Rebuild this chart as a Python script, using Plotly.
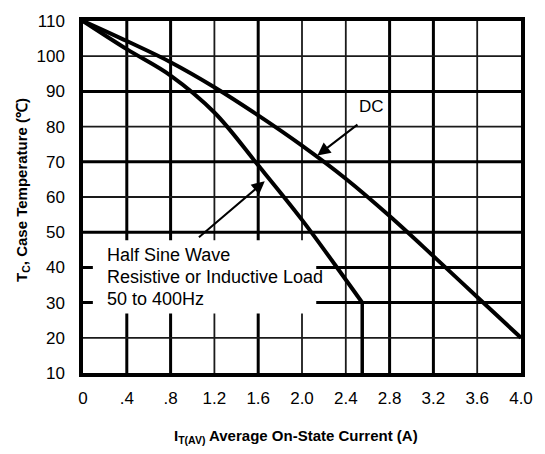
import plotly.graph_objects as go

# ---- data ----
dc_x = [0.0, 0.4, 0.8, 1.2, 1.6, 2.0, 2.4, 2.8, 3.2, 3.6, 4.0]
dc_y = [110, 104.3, 98.3, 91.2, 83.2, 74.6, 65.2, 54.6, 43.2, 31.6, 20.0]

hs_x = [0.0, 0.4, 0.8, 1.2, 1.6, 2.0, 2.4, 2.55]
hs_y = [110, 102.0, 94.5, 84.0, 69.0, 53.5, 36.5, 30.0]
hs_drop_to = 10

x_ticks = [0, 0.4, 0.8, 1.2, 1.6, 2.0, 2.4, 2.8, 3.2, 3.6, 4.0]
x_ticktext = ["0", ".4", ".8", "1.2", "1.6", "2.0", "2.4", "2.8", "3.2", "3.6", "4.0"]
y_ticks = [10, 20, 30, 40, 50, 60, 70, 80, 90, 100, 110]

x_grid_thick = [0.4, 0.8, 1.6, 2.8, 3.2]
x_grid_thin = [1.2, 2.0, 2.4, 3.6]
y_grid_thick = [30, 40, 50, 70, 90]
y_grid_thin = [20, 60, 80, 100]

box_text = ["Half Sine Wave", "Resistive or Inductive Load", "50 to 400Hz"]
box_text_y = [43.4, 37.3, 30.9]

FONT = "Arial, Liberation Sans, sans-serif"

fig = go.Figure()

shapes = []
for v in x_grid_thin:
    shapes.append(dict(type="line", xref="x", yref="y", x0=v, x1=v, y0=10, y1=110,
                       line=dict(color="#1a1a1a", width=1.8), layer="below"))
for v in x_grid_thick:
    shapes.append(dict(type="line", xref="x", yref="y", x0=v, x1=v, y0=10, y1=110,
                       line=dict(color="#000", width=3), layer="below"))
for v in y_grid_thin:
    shapes.append(dict(type="line", xref="x", yref="y", x0=0, x1=4, y0=v, y1=v,
                       line=dict(color="#1a1a1a", width=1.8), layer="below"))
for v in y_grid_thick:
    shapes.append(dict(type="line", xref="x", yref="y", x0=0, x1=4, y0=v, y1=v,
                       line=dict(color="#000", width=3), layer="below"))
# white label box
shapes.append(dict(type="rect", xref="x", yref="y", x0=0.09, x1=2.13, y0=26.9, y1=47.7,
                   fillcolor="white", line=dict(width=0), layer="below"))

fig.add_trace(go.Scatter(x=dc_x, y=dc_y, mode="lines", line=dict(color="black", width=4),
                         line_shape="spline", showlegend=False, hoverinfo="skip"))
fig.add_trace(go.Scatter(x=hs_x, y=hs_y, mode="lines", line=dict(color="black", width=4),
                         line_shape="spline", showlegend=False, hoverinfo="skip"))
fig.add_trace(go.Scatter(x=[hs_x[-1], hs_x[-1]], y=[hs_y[-1], hs_drop_to], mode="lines",
                         line=dict(color="black", width=3.5), showlegend=False, hoverinfo="skip"))

annotations = []
for t, yv in zip(box_text, box_text_y):
    annotations.append(dict(x=0.2, y=yv, xref="x", yref="y", text=t, showarrow=False,
                            xanchor="left", yanchor="middle",
                            font=dict(family=FONT, size=18, color="black")))
annotations.append(dict(x=2.5, y=85.6, xref="x", yref="y", text="DC", showarrow=False,
                        xanchor="left", yanchor="middle",
                        font=dict(family=FONT, size=17, color="black")))
# arrows
annotations.append(dict(x=2.14, y=71.8, ax=2.52, ay=80.9, xref="x", yref="y",
                        axref="x", ayref="y", text="", showarrow=True,
                        arrowhead=2, arrowsize=1.3, arrowwidth=2, arrowcolor="black"))
annotations.append(dict(x=1.66, y=64.5, ax=1.045, ay=48.2, xref="x", yref="y",
                        axref="x", ayref="y", text="", showarrow=True,
                        arrowhead=2, arrowsize=1.3, arrowwidth=2, arrowcolor="black"))
# axis titles
annotations.append(dict(x=-0.1387, y=0.5208, xref="paper", yref="paper",
                        text="<b>T<sub>C</sub>, Case Temperature (℃)</b>", textangle=-90,
                        showarrow=False, xanchor="center", yanchor="middle",
                        font=dict(family=FONT, size=15, color="black")))
annotations.append(dict(x=0.4866, y=-0.18, xref="paper", yref="paper",
                        text="<b>I<sub>T(AV)</sub> Average On-State Current (A)</b>",
                        showarrow=False, xanchor="center", yanchor="middle",
                        font=dict(family=FONT, size=15, color="black")))

fig.update_layout(
    width=545, height=454,
    margin=dict(l=83, r=14, t=12, b=81),
    paper_bgcolor="white", plot_bgcolor="white",
    shapes=shapes, annotations=annotations,
    showlegend=False,
)
fig.update_xaxes(range=[0, 4], tickvals=x_ticks, ticktext=x_ticktext, showgrid=False,
                 zeroline=False, showline=True, mirror=True, linecolor="black", linewidth=3.5,
                 ticks="", ticklabelstandoff=7,
                 tickfont=dict(family=FONT, size=17, color="black"))
fig.update_yaxes(range=[10, 110], tickvals=y_ticks, showgrid=False,
                 zeroline=False, showline=True, mirror=True, linecolor="black", linewidth=3.5,
                 ticks="", ticklabelstandoff=11,
                 tickfont=dict(family=FONT, size=17, color="black"))

fig.write_html("out.html")
